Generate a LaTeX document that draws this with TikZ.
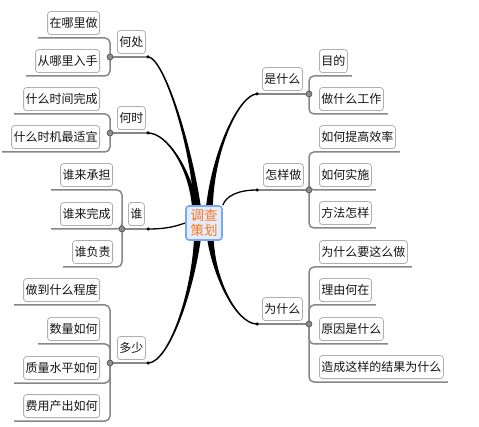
\documentclass[tikz,border=0pt]{standalone}
\usepackage{fontspec}
\usepackage{tikz}
\usetikzlibrary{calc, backgrounds}
\newfontfamily\cjk{Noto Sans CJK SC}
\definecolor{boxgray}{RGB}{175,175,175}
\definecolor{linegray}{RGB}{135,135,135}
\definecolor{textdark}{RGB}{20,20,20}
\definecolor{hubblue}{RGB}{120,168,245}
\definecolor{hubfill}{RGB}{228,237,255}
\definecolor{huborange}{RGB}{255,118,20}
\tikzset{
  leaf/.style={rectangle, rounded corners=3pt, draw=boxgray, fill=white,
    line width=0.8pt, inner xsep=2pt, inner ysep=2pt, minimum height=23pt,
    text=textdark, font=\cjk\fontsize{12}{14}\selectfont},
  hub/.style={rectangle, rounded corners=3pt, draw=hubblue, fill=hubfill,
    line width=1.6pt, minimum width=36pt, minimum height=34pt, inner sep=1pt,
    align=center, text=huborange, font=\cjk\fontsize{13.5}{15}\selectfont},
  junc/.style={circle, draw=black!70, fill=black!45, line width=0.6pt,
    minimum size=6pt, inner sep=0pt},
  tip/.style={circle, fill=black, minimum size=3.5pt, inner sep=0pt},
  uline/.style={draw=linegray, line width=1.5pt},
  bracket/.style={uline, rounded corners=5pt},
  thinlimb/.style={draw=black, line width=1.3pt},
}
% tapered branch from a tip dot into the hub
\newcommand{\limb}[4]{\filldraw[line width=1.4pt] (#1.center) .. controls #2 and #3 ..
  ($#4+(-3,0)$) -- ($#4+(3,0)$) .. controls #3 and #2 .. (#1.center) -- cycle;}

\begin{document}
\begin{tikzpicture}[x=1pt, y=-1pt]
  \useasboundingbox (0,0) rectangle (479,427);

  \node[hub] (cen) at (204,223) {调查\\策划};

  % left side
  \node[leaf, anchor=south west] (hechu) at (117,54) {何处};
  \node[junc] (hechuJ) at (110,57) {};
  \node[tip] (hechuD) at (148,57) {};
  \node[leaf, anchor=south east] (hechu1) at (100,35) {在哪里做};
  \node[leaf, anchor=south east] (hechu2) at (100,73) {从哪里入手};

  \node[leaf, anchor=south west] (heshi) at (117,130) {何时};
  \node[junc] (heshiJ) at (110,133) {};
  \node[tip] (heshiD) at (148,133) {};
  \node[leaf, anchor=south east] (heshi1) at (100,111) {什么时间完成};
  \node[leaf, anchor=south east] (heshi2) at (100,149) {什么时机最适宜};

  \node[leaf, anchor=south west] (shui) at (128,226) {谁};
  \node[junc] (shuiJ) at (122,229) {};
  \node[tip] (shuiD) at (148,229) {};
  \node[leaf, anchor=south east] (shui1) at (113,187) {谁来承担};
  \node[leaf, anchor=south east] (shui2) at (113,226) {谁来完成};
  \node[leaf, anchor=south east] (shui3) at (113,264) {谁负责};

  \node[leaf, anchor=south west] (duoshao) at (117,360) {多少};
  \node[junc] (duoshaoJ) at (110,363) {};
  \node[tip] (duoshaoD) at (148,363) {};
  \node[leaf, anchor=south east] (duoshao1) at (100,302) {做到什么程度};
  \node[leaf, anchor=south east] (duoshao2) at (100,341) {数量如何};
  \node[leaf, anchor=south east] (duoshao3) at (100,380) {质量水平如何};
  \node[leaf, anchor=south east] (duoshao4) at (100,418) {费用产出如何};

  % right side
  \node[leaf, anchor=south west] (shi) at (262,91) {是什么};
  \node[junc] (shiJ) at (309,94) {};
  \node[tip] (shiD) at (257,94) {};
  \node[leaf, anchor=south west] (shi1) at (319,73) {目的};
  \node[leaf, anchor=south west] (shi2) at (319,111) {做什么工作};

  \node[leaf, anchor=south west] (zen) at (263,187) {怎样做};
  \node[junc] (zenJ) at (309,190) {};
  \node[tip] (zenD) at (257,190) {};
  \node[leaf, anchor=south west] (zen1) at (319,149) {如何提高效率};
  \node[leaf, anchor=south west] (zen2) at (319,187) {如何实施};
  \node[leaf, anchor=south west] (zen3) at (319,225) {方法怎样};

  \node[leaf, anchor=south west] (wei) at (262,321) {为什么};
  \node[junc] (weiJ) at (309,324) {};
  \node[tip] (weiD) at (257,324) {};
  \node[leaf, anchor=south west] (wei1) at (319,264) {为什么要这么做};
  \node[leaf, anchor=south west] (wei2) at (319,302) {理由何在};
  \node[leaf, anchor=south west] (wei3) at (319,341) {原因是什么};
  \node[leaf, anchor=south west] (wei4) at (319,379) {造成这样的结果为什么};

  \begin{scope}[on background layer]
    % underlines and brackets
    \foreach \g/\n in {hechu/2, heshi/2, shui/3, duoshao/4} {
      \draw[uline] (\g J.center) -- (\g D.center);
      \foreach \i in {1,...,\n}
        \draw[bracket] (\g J.center) |- ($(\g\i.south west)+(-9,3)$);
    }
    \foreach \g/\n in {shi/2, zen/3, wei/4} {
      \draw[uline] (\g J.center) -- (\g D.center);
      \foreach \i in {1,...,\n}
        \draw[bracket] (\g J.center) |- ($(\g\i.south east)+(4,3)$);
    }

    % branches into the hub
    \limb{hechuD}{(164,57)}{(193,150)}{(cen.north)+(-6,8)}
    \limb{heshiD}{(168,133)}{(192,172)}{(cen.north)+(-8,8)}
    \limb{shiD}{(240,94)}{(212,150)}{(cen.north)+(5,8)}
    \limb{duoshaoD}{(168,363)}{(193,295)}{(cen.south)+(-6,-8)}
    \limb{weiD}{(236,324)}{(212,275)}{(cen.south)+(6,-8)}
    \draw[thinlimb] (shuiD.center) .. controls (168,229) and (176,226) .. (cen.west);
    \draw[thinlimb] (zenD.center) .. controls (238,190) and (226,196) .. (cen.north east);
  \end{scope}
\end{tikzpicture}
\end{document}
